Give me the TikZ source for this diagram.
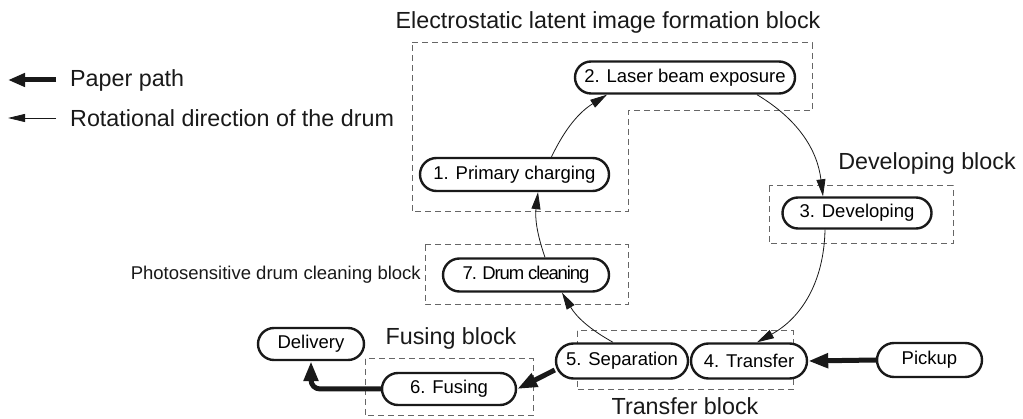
\documentclass[tikz,border=0pt]{standalone}
\usepackage{fontspec}
\setmainfont{Liberation Sans}
\usetikzlibrary{shapes.misc,arrows.meta}
\tikzset{
  pill/.style={rounded rectangle, draw=black!90, fill=white, line width=2.4pt, inner sep=0pt, font=\fontsize{18.5}{22}\selectfont},
  blk/.style={draw=black!60, line width=1pt, dash pattern=on 6pt off 4pt},
  lbl/.style={inner sep=0pt, font=\fontsize{23.3}{27}\selectfont, text=black!90},
  small/.style={inner sep=0pt, font=\fontsize{18.5}{22}\selectfont, text=black!90},
  drum/.style={draw=black!90, line width=0.8pt, -{Triangle[length=17pt,width=9pt]}},
  paper/.style={draw=black!90, line width=5pt, -{Triangle[length=20pt,width=14pt]}}
}
\begin{document}
\begin{tikzpicture}[x=1pt,y=-1pt]
\useasboundingbox (0,0) rectangle (1023,419);
% dashed blocks
\draw[blk] (412,43) -- (812,43) -- (812,111) -- (628,111) -- (628,212) -- (412,212) -- cycle;
\draw[blk] (425,245) rectangle (628,305);
\draw[blk] (769,186) rectangle (953,244);
\draw[blk] (577,331) rectangle (793,390);
\draw[blk] (365,359) rectangle (533,416);
% labels
\node[lbl] (title) at (608,22) {Electrostatic latent image formation block};
\node[lbl] (devlbl) at (927,163) {Developing block};
\node[lbl] (trlbl) at (685,406) {Transfer block};
\node[lbl] (fuslbl) at (451,338) {Fusing block};
\node[small, anchor=east] (cleanlbl) at (421,275) {Photosensitive drum cleaning block};
% legend
\coordinate (la1) at (56,80);
\coordinate (la2) at (8,80);
\coordinate (lb1) at (56,118);
\coordinate (lb2) at (8,118);
\draw[draw=black!90, line width=5pt, -{Triangle[length=17pt,width=13pt]}] (la1) -- (la2);
\draw[draw=black!90, line width=0.8pt, -{Triangle[length=17pt,width=8pt]}] (lb1) -- (lb2);
\node[lbl, anchor=west] (lt1) at (70,80) {Paper path};
\node[lbl, anchor=west] (lt2) at (70,118) {Rotational direction of the drum};
% nodes
\node[pill, minimum width=220pt, minimum height=32pt] (n2) at (685,77.5) {2. Laser beam exposure};
\node[pill, minimum width=189pt, minimum height=33pt] (n1) at (514.5,174.5) {1. Primary charging};
\node[pill, minimum width=149pt, minimum height=31pt] (n3) at (857,213) {3. Developing};
\node[pill, minimum width=166pt, minimum height=33pt] (n7) at (526,275) {\addfontfeature{LetterSpace=-6}7. Drum cleaning};
\node[pill, minimum width=132pt, minimum height=35pt] (n5) at (622,361) {5. Separation};
\node[pill, minimum width=116pt, minimum height=35pt] (n4) at (749,361) {4. Transfer};
\node[pill, minimum width=105pt, minimum height=34pt] (pick) at (929.5,360) {Pickup};
\node[pill, minimum width=134pt, minimum height=32pt] (n6) at (449,389) {6. Fusing};
\node[pill, minimum width=106pt, minimum height=32pt] (deliv) at (311,344) {Delivery};
% drum rotation
\draw[drum] ([xshift=37]n1.north) to[bend left=16] ([xshift=-78]n2.south);
\draw[drum] ([xshift=72]n2.south) to[bend left=26] ([xshift=-34]n3.north);
\draw[drum] ([xshift=-32]n3.south) to[bend left=30] ([xshift=8]n4.north);
\draw[drum] ([xshift=-9]n5.north) to[bend left=15] ([xshift=36]n7.south);
\draw[drum] ([xshift=19]n7.north) to[bend left=13] ([xshift=23.5]n1.south);
% paper path
\draw[paper] (pick.west) -- (n4.east);
\draw[paper] ([yshift=-9]n5.west) -- (n6.east);
\draw[paper, rounded corners=9pt] (n6.west) -| (deliv.south);
\end{tikzpicture}
\end{document}
